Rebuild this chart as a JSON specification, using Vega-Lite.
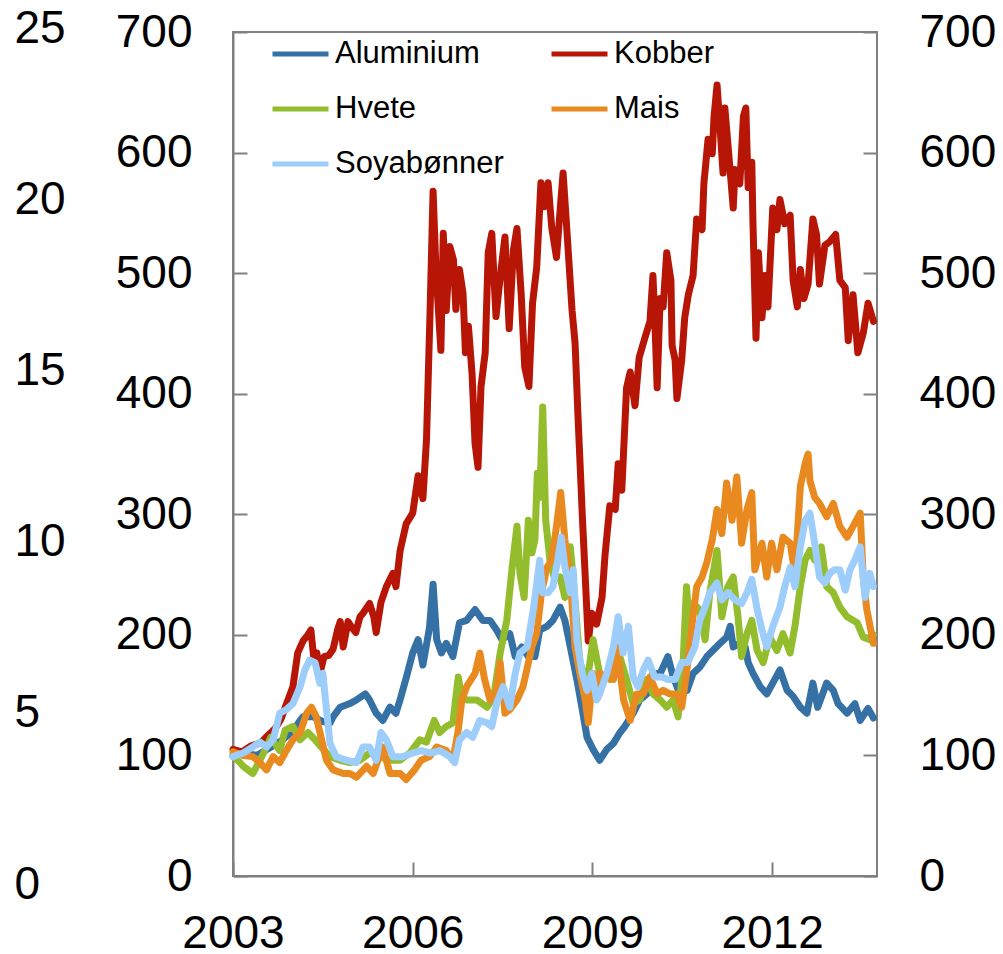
{
"$schema": "https://vega.github.io/schema/vega-lite/v6.json",
"width": 644, "height": 844,
"autosize": "none",
"padding": {"left": 233, "top": 32, "right": 126, "bottom": 78},
"background": "white",
"config": {
  "font": "Liberation Sans",
  "view": {"stroke": "#808080", "strokeWidth": 2},
  "axis": {"grid": false, "title": null, "domainColor": "#808080", "domainWidth": 2, "tickColor": "#808080", "tickWidth": 2, "labelColor": "black", "labelFontSize": 46, "labelFont": "Liberation Sans"}
},
"layer": [
  {
    "data": {"values": [
{"commodity":"Aluminium","year":2003.0,"index":100},{"commodity":"Aluminium","year":2003.2,"index":102},{"commodity":"Aluminium","year":2003.4,"index":100},{"commodity":"Aluminium","year":2003.6,"index":106},{"commodity":"Aluminium","year":2003.8,"index":112},{"commodity":"Aluminium","year":2004.0,"index":120},{"commodity":"Aluminium","year":2004.12,"index":129},{"commodity":"Aluminium","year":2004.17,"index":132},{"commodity":"Aluminium","year":2004.34,"index":132},{"commodity":"Aluminium","year":2004.5,"index":128},{"commodity":"Aluminium","year":2004.62,"index":127},{"commodity":"Aluminium","year":2004.67,"index":132},{"commodity":"Aluminium","year":2004.79,"index":140},{"commodity":"Aluminium","year":2004.95,"index":143},{"commodity":"Aluminium","year":2005.06,"index":146},{"commodity":"Aluminium","year":2005.21,"index":151},{"commodity":"Aluminium","year":2005.28,"index":146},{"commodity":"Aluminium","year":2005.39,"index":135},{"commodity":"Aluminium","year":2005.5,"index":129},{"commodity":"Aluminium","year":2005.62,"index":140},{"commodity":"Aluminium","year":2005.72,"index":135},{"commodity":"Aluminium","year":2005.8,"index":148},{"commodity":"Aluminium","year":2005.9,"index":166},{"commodity":"Aluminium","year":2006.0,"index":185},{"commodity":"Aluminium","year":2006.09,"index":196},{"commodity":"Aluminium","year":2006.17,"index":175},{"commodity":"Aluminium","year":2006.28,"index":206},{"commodity":"Aluminium","year":2006.34,"index":242},{"commodity":"Aluminium","year":2006.4,"index":196},{"commodity":"Aluminium","year":2006.48,"index":185},{"commodity":"Aluminium","year":2006.56,"index":193},{"commodity":"Aluminium","year":2006.67,"index":182},{"commodity":"Aluminium","year":2006.78,"index":210},{"commodity":"Aluminium","year":2006.9,"index":212},{"commodity":"Aluminium","year":2007.04,"index":221},{"commodity":"Aluminium","year":2007.17,"index":212},{"commodity":"Aluminium","year":2007.29,"index":212},{"commodity":"Aluminium","year":2007.4,"index":204},{"commodity":"Aluminium","year":2007.49,"index":196},{"commodity":"Aluminium","year":2007.62,"index":201},{"commodity":"Aluminium","year":2007.71,"index":182},{"commodity":"Aluminium","year":2007.82,"index":190},{"commodity":"Aluminium","year":2007.93,"index":182},{"commodity":"Aluminium","year":2008.04,"index":182},{"commodity":"Aluminium","year":2008.12,"index":204},{"commodity":"Aluminium","year":2008.24,"index":207},{"commodity":"Aluminium","year":2008.34,"index":212},{"commodity":"Aluminium","year":2008.46,"index":223},{"commodity":"Aluminium","year":2008.54,"index":212},{"commodity":"Aluminium","year":2008.63,"index":190},{"commodity":"Aluminium","year":2008.74,"index":163},{"commodity":"Aluminium","year":2008.83,"index":138},{"commodity":"Aluminium","year":2008.91,"index":115},{"commodity":"Aluminium","year":2009.01,"index":105},{"commodity":"Aluminium","year":2009.12,"index":96},{"commodity":"Aluminium","year":2009.24,"index":105},{"commodity":"Aluminium","year":2009.35,"index":110},{"commodity":"Aluminium","year":2009.46,"index":119},{"commodity":"Aluminium","year":2009.54,"index":124},{"commodity":"Aluminium","year":2009.68,"index":135},{"commodity":"Aluminium","year":2009.79,"index":146},{"commodity":"Aluminium","year":2009.91,"index":151},{"commodity":"Aluminium","year":2010.01,"index":168},{"commodity":"Aluminium","year":2010.13,"index":168},{"commodity":"Aluminium","year":2010.26,"index":182},{"commodity":"Aluminium","year":2010.35,"index":165},{"commodity":"Aluminium","year":2010.46,"index":151},{"commodity":"Aluminium","year":2010.58,"index":154},{"commodity":"Aluminium","year":2010.68,"index":168},{"commodity":"Aluminium","year":2010.79,"index":173},{"commodity":"Aluminium","year":2010.91,"index":182},{"commodity":"Aluminium","year":2011.01,"index":187},{"commodity":"Aluminium","year":2011.13,"index":193},{"commodity":"Aluminium","year":2011.24,"index":198},{"commodity":"Aluminium","year":2011.3,"index":207},{"commodity":"Aluminium","year":2011.35,"index":190},{"commodity":"Aluminium","year":2011.46,"index":193},{"commodity":"Aluminium","year":2011.55,"index":190},{"commodity":"Aluminium","year":2011.6,"index":177},{"commodity":"Aluminium","year":2011.68,"index":168},{"commodity":"Aluminium","year":2011.8,"index":157},{"commodity":"Aluminium","year":2011.91,"index":151},{"commodity":"Aluminium","year":2012.01,"index":160},{"commodity":"Aluminium","year":2012.13,"index":171},{"commodity":"Aluminium","year":2012.25,"index":154},{"commodity":"Aluminium","year":2012.35,"index":149},{"commodity":"Aluminium","year":2012.47,"index":140},{"commodity":"Aluminium","year":2012.58,"index":135},{"commodity":"Aluminium","year":2012.68,"index":160},{"commodity":"Aluminium","year":2012.76,"index":140},{"commodity":"Aluminium","year":2012.91,"index":160},{"commodity":"Aluminium","year":2013.02,"index":154},{"commodity":"Aluminium","year":2013.1,"index":143},{"commodity":"Aluminium","year":2013.25,"index":135},{"commodity":"Aluminium","year":2013.38,"index":143},{"commodity":"Aluminium","year":2013.47,"index":129},{"commodity":"Aluminium","year":2013.6,"index":139},{"commodity":"Aluminium","year":2013.69,"index":131},
{"commodity":"Kobber","year":2003.0,"index":105},{"commodity":"Kobber","year":2003.15,"index":103},{"commodity":"Kobber","year":2003.3,"index":108},{"commodity":"Kobber","year":2003.45,"index":110},{"commodity":"Kobber","year":2003.55,"index":115},{"commodity":"Kobber","year":2003.7,"index":122},{"commodity":"Kobber","year":2003.8,"index":130},{"commodity":"Kobber","year":2003.88,"index":141},{"commodity":"Kobber","year":2004.0,"index":157},{"commodity":"Kobber","year":2004.08,"index":185},{"commodity":"Kobber","year":2004.17,"index":195},{"commodity":"Kobber","year":2004.25,"index":200},{"commodity":"Kobber","year":2004.3,"index":204},{"commodity":"Kobber","year":2004.35,"index":180},{"commodity":"Kobber","year":2004.4,"index":185},{"commodity":"Kobber","year":2004.45,"index":168},{"commodity":"Kobber","year":2004.52,"index":182},{"commodity":"Kobber","year":2004.6,"index":183},{"commodity":"Kobber","year":2004.67,"index":188},{"commodity":"Kobber","year":2004.75,"index":205},{"commodity":"Kobber","year":2004.79,"index":211},{"commodity":"Kobber","year":2004.84,"index":190},{"commodity":"Kobber","year":2004.92,"index":211},{"commodity":"Kobber","year":2005.0,"index":205},{"commodity":"Kobber","year":2005.05,"index":202},{"commodity":"Kobber","year":2005.12,"index":215},{"commodity":"Kobber","year":2005.17,"index":218},{"commodity":"Kobber","year":2005.28,"index":226},{"commodity":"Kobber","year":2005.35,"index":215},{"commodity":"Kobber","year":2005.39,"index":202},{"commodity":"Kobber","year":2005.47,"index":227},{"commodity":"Kobber","year":2005.56,"index":240},{"commodity":"Kobber","year":2005.67,"index":251},{"commodity":"Kobber","year":2005.72,"index":240},{"commodity":"Kobber","year":2005.79,"index":270},{"commodity":"Kobber","year":2005.89,"index":292},{"commodity":"Kobber","year":2006.0,"index":301},{"commodity":"Kobber","year":2006.09,"index":332},{"commodity":"Kobber","year":2006.17,"index":313},{"commodity":"Kobber","year":2006.23,"index":362},{"commodity":"Kobber","year":2006.29,"index":469},{"commodity":"Kobber","year":2006.34,"index":568},{"commodity":"Kobber","year":2006.39,"index":500},{"commodity":"Kobber","year":2006.43,"index":469},{"commodity":"Kobber","year":2006.47,"index":436},{"commodity":"Kobber","year":2006.51,"index":533},{"commodity":"Kobber","year":2006.56,"index":469},{"commodity":"Kobber","year":2006.62,"index":522},{"commodity":"Kobber","year":2006.68,"index":511},{"commodity":"Kobber","year":2006.72,"index":470},{"commodity":"Kobber","year":2006.78,"index":503},{"commodity":"Kobber","year":2006.84,"index":483},{"commodity":"Kobber","year":2006.88,"index":434},{"commodity":"Kobber","year":2006.93,"index":456},{"commodity":"Kobber","year":2006.99,"index":417},{"commodity":"Kobber","year":2007.04,"index":359},{"commodity":"Kobber","year":2007.09,"index":339},{"commodity":"Kobber","year":2007.14,"index":406},{"commodity":"Kobber","year":2007.21,"index":434},{"commodity":"Kobber","year":2007.26,"index":517},{"commodity":"Kobber","year":2007.32,"index":533},{"commodity":"Kobber","year":2007.39,"index":464},{"commodity":"Kobber","year":2007.46,"index":497},{"commodity":"Kobber","year":2007.54,"index":530},{"commodity":"Kobber","year":2007.61,"index":454},{"commodity":"Kobber","year":2007.68,"index":519},{"commodity":"Kobber","year":2007.74,"index":537},{"commodity":"Kobber","year":2007.81,"index":483},{"commodity":"Kobber","year":2007.87,"index":422},{"commodity":"Kobber","year":2007.94,"index":406},{"commodity":"Kobber","year":2008.0,"index":475},{"commodity":"Kobber","year":2008.07,"index":505},{"commodity":"Kobber","year":2008.14,"index":575},{"commodity":"Kobber","year":2008.2,"index":555},{"commodity":"Kobber","year":2008.26,"index":575},{"commodity":"Kobber","year":2008.32,"index":538},{"commodity":"Kobber","year":2008.4,"index":513},{"commodity":"Kobber","year":2008.46,"index":552},{"commodity":"Kobber","year":2008.51,"index":583},{"commodity":"Kobber","year":2008.57,"index":538},{"commodity":"Kobber","year":2008.66,"index":469},{"commodity":"Kobber","year":2008.71,"index":442},{"commodity":"Kobber","year":2008.76,"index":380},{"commodity":"Kobber","year":2008.83,"index":300},{"commodity":"Kobber","year":2008.88,"index":248},{"commodity":"Kobber","year":2008.93,"index":195},{"commodity":"Kobber","year":2008.99,"index":218},{"commodity":"Kobber","year":2009.07,"index":209},{"commodity":"Kobber","year":2009.16,"index":231},{"commodity":"Kobber","year":2009.21,"index":266},{"commodity":"Kobber","year":2009.29,"index":307},{"commodity":"Kobber","year":2009.38,"index":304},{"commodity":"Kobber","year":2009.43,"index":342},{"commodity":"Kobber","year":2009.49,"index":320},{"commodity":"Kobber","year":2009.57,"index":405},{"commodity":"Kobber","year":2009.63,"index":418},{"commodity":"Kobber","year":2009.71,"index":390},{"commodity":"Kobber","year":2009.78,"index":430},{"commodity":"Kobber","year":2009.88,"index":447},{"commodity":"Kobber","year":2009.96,"index":460},{"commodity":"Kobber","year":2010.01,"index":498},{"commodity":"Kobber","year":2010.04,"index":463},{"commodity":"Kobber","year":2010.08,"index":405},{"commodity":"Kobber","year":2010.13,"index":479},{"commodity":"Kobber","year":2010.18,"index":472},{"commodity":"Kobber","year":2010.24,"index":517},{"commodity":"Kobber","year":2010.31,"index":494},{"commodity":"Kobber","year":2010.33,"index":440},{"commodity":"Kobber","year":2010.38,"index":428},{"commodity":"Kobber","year":2010.41,"index":396},{"commodity":"Kobber","year":2010.49,"index":428},{"commodity":"Kobber","year":2010.54,"index":463},{"commodity":"Kobber","year":2010.6,"index":482},{"commodity":"Kobber","year":2010.68,"index":498},{"commodity":"Kobber","year":2010.74,"index":545},{"commodity":"Kobber","year":2010.83,"index":536},{"commodity":"Kobber","year":2010.86,"index":574},{"commodity":"Kobber","year":2010.93,"index":611},{"commodity":"Kobber","year":2011.0,"index":599},{"commodity":"Kobber","year":2011.03,"index":630},{"commodity":"Kobber","year":2011.08,"index":656},{"commodity":"Kobber","year":2011.13,"index":621},{"commodity":"Kobber","year":2011.18,"index":583},{"commodity":"Kobber","year":2011.21,"index":637},{"commodity":"Kobber","year":2011.26,"index":608},{"commodity":"Kobber","year":2011.35,"index":554},{"commodity":"Kobber","year":2011.38,"index":586},{"commodity":"Kobber","year":2011.46,"index":574},{"commodity":"Kobber","year":2011.52,"index":630},{"commodity":"Kobber","year":2011.56,"index":637},{"commodity":"Kobber","year":2011.6,"index":571},{"commodity":"Kobber","year":2011.66,"index":592},{"commodity":"Kobber","year":2011.68,"index":541},{"commodity":"Kobber","year":2011.73,"index":446},{"commodity":"Kobber","year":2011.77,"index":517},{"commodity":"Kobber","year":2011.83,"index":463},{"commodity":"Kobber","year":2011.88,"index":498},{"commodity":"Kobber","year":2011.93,"index":472},{"commodity":"Kobber","year":2012.01,"index":554},{"commodity":"Kobber","year":2012.08,"index":536},{"commodity":"Kobber","year":2012.13,"index":561},{"commodity":"Kobber","year":2012.21,"index":541},{"commodity":"Kobber","year":2012.3,"index":548},{"commodity":"Kobber","year":2012.35,"index":494},{"commodity":"Kobber","year":2012.42,"index":472},{"commodity":"Kobber","year":2012.47,"index":503},{"commodity":"Kobber","year":2012.53,"index":479},{"commodity":"Kobber","year":2012.6,"index":491},{"commodity":"Kobber","year":2012.68,"index":545},{"commodity":"Kobber","year":2012.74,"index":532},{"commodity":"Kobber","year":2012.79,"index":491},{"commodity":"Kobber","year":2012.88,"index":523},{"commodity":"Kobber","year":2012.96,"index":526},{"commodity":"Kobber","year":2013.06,"index":532},{"commodity":"Kobber","year":2013.13,"index":494},{"commodity":"Kobber","year":2013.22,"index":488},{"commodity":"Kobber","year":2013.27,"index":444},{"commodity":"Kobber","year":2013.35,"index":482},{"commodity":"Kobber","year":2013.43,"index":434},{"commodity":"Kobber","year":2013.52,"index":450},{"commodity":"Kobber","year":2013.6,"index":475},{"commodity":"Kobber","year":2013.69,"index":460},
{"commodity":"Hvete","year":2003.0,"index":99},{"commodity":"Hvete","year":2003.1,"index":95},{"commodity":"Hvete","year":2003.17,"index":91},{"commodity":"Hvete","year":2003.25,"index":88},{"commodity":"Hvete","year":2003.33,"index":85},{"commodity":"Hvete","year":2003.45,"index":96},{"commodity":"Hvete","year":2003.56,"index":107},{"commodity":"Hvete","year":2003.63,"index":115},{"commodity":"Hvete","year":2003.78,"index":104},{"commodity":"Hvete","year":2003.87,"index":121},{"commodity":"Hvete","year":2004.0,"index":124},{"commodity":"Hvete","year":2004.12,"index":113},{"commodity":"Hvete","year":2004.25,"index":119},{"commodity":"Hvete","year":2004.37,"index":113},{"commodity":"Hvete","year":2004.47,"index":107},{"commodity":"Hvete","year":2004.62,"index":99},{"commodity":"Hvete","year":2004.79,"index":96},{"commodity":"Hvete","year":2004.95,"index":94},{"commodity":"Hvete","year":2005.12,"index":96},{"commodity":"Hvete","year":2005.28,"index":102},{"commodity":"Hvete","year":2005.45,"index":99},{"commodity":"Hvete","year":2005.62,"index":96},{"commodity":"Hvete","year":2005.79,"index":96},{"commodity":"Hvete","year":2005.95,"index":102},{"commodity":"Hvete","year":2006.12,"index":113},{"commodity":"Hvete","year":2006.23,"index":111},{"commodity":"Hvete","year":2006.36,"index":129},{"commodity":"Hvete","year":2006.45,"index":119},{"commodity":"Hvete","year":2006.56,"index":124},{"commodity":"Hvete","year":2006.67,"index":127},{"commodity":"Hvete","year":2006.76,"index":165},{"commodity":"Hvete","year":2006.82,"index":148},{"commodity":"Hvete","year":2006.9,"index":146},{"commodity":"Hvete","year":2007.07,"index":146},{"commodity":"Hvete","year":2007.24,"index":140},{"commodity":"Hvete","year":2007.35,"index":148},{"commodity":"Hvete","year":2007.46,"index":185},{"commodity":"Hvete","year":2007.57,"index":212},{"commodity":"Hvete","year":2007.66,"index":256},{"commodity":"Hvete","year":2007.74,"index":290},{"commodity":"Hvete","year":2007.79,"index":251},{"commodity":"Hvete","year":2007.86,"index":231},{"commodity":"Hvete","year":2007.93,"index":295},{"commodity":"Hvete","year":2007.99,"index":268},{"commodity":"Hvete","year":2008.04,"index":279},{"commodity":"Hvete","year":2008.08,"index":334},{"commodity":"Hvete","year":2008.12,"index":314},{"commodity":"Hvete","year":2008.17,"index":389},{"commodity":"Hvete","year":2008.22,"index":295},{"commodity":"Hvete","year":2008.29,"index":262},{"commodity":"Hvete","year":2008.37,"index":246},{"commodity":"Hvete","year":2008.46,"index":248},{"commodity":"Hvete","year":2008.54,"index":231},{"commodity":"Hvete","year":2008.63,"index":273},{"commodity":"Hvete","year":2008.68,"index":246},{"commodity":"Hvete","year":2008.79,"index":177},{"commodity":"Hvete","year":2008.91,"index":160},{"commodity":"Hvete","year":2009.01,"index":196},{"commodity":"Hvete","year":2009.12,"index":168},{"commodity":"Hvete","year":2009.29,"index":163},{"commodity":"Hvete","year":2009.41,"index":190},{"commodity":"Hvete","year":2009.57,"index":163},{"commodity":"Hvete","year":2009.68,"index":143},{"commodity":"Hvete","year":2009.79,"index":146},{"commodity":"Hvete","year":2009.91,"index":163},{"commodity":"Hvete","year":2010.01,"index":151},{"commodity":"Hvete","year":2010.13,"index":146},{"commodity":"Hvete","year":2010.24,"index":140},{"commodity":"Hvete","year":2010.35,"index":146},{"commodity":"Hvete","year":2010.43,"index":132},{"commodity":"Hvete","year":2010.51,"index":173},{"commodity":"Hvete","year":2010.57,"index":240},{"commodity":"Hvete","year":2010.62,"index":207},{"commodity":"Hvete","year":2010.68,"index":226},{"commodity":"Hvete","year":2010.79,"index":221},{"commodity":"Hvete","year":2010.88,"index":196},{"commodity":"Hvete","year":2010.96,"index":235},{"commodity":"Hvete","year":2011.08,"index":270},{"commodity":"Hvete","year":2011.16,"index":215},{"commodity":"Hvete","year":2011.26,"index":240},{"commodity":"Hvete","year":2011.35,"index":248},{"commodity":"Hvete","year":2011.43,"index":215},{"commodity":"Hvete","year":2011.49,"index":182},{"commodity":"Hvete","year":2011.58,"index":201},{"commodity":"Hvete","year":2011.66,"index":212},{"commodity":"Hvete","year":2011.75,"index":187},{"commodity":"Hvete","year":2011.85,"index":177},{"commodity":"Hvete","year":2011.96,"index":198},{"commodity":"Hvete","year":2012.08,"index":187},{"commodity":"Hvete","year":2012.18,"index":201},{"commodity":"Hvete","year":2012.3,"index":185},{"commodity":"Hvete","year":2012.38,"index":207},{"commodity":"Hvete","year":2012.47,"index":240},{"commodity":"Hvete","year":2012.55,"index":262},{"commodity":"Hvete","year":2012.63,"index":270},{"commodity":"Hvete","year":2012.71,"index":262},{"commodity":"Hvete","year":2012.82,"index":273},{"commodity":"Hvete","year":2012.91,"index":240},{"commodity":"Hvete","year":2013.02,"index":235},{"commodity":"Hvete","year":2013.13,"index":223},{"commodity":"Hvete","year":2013.25,"index":215},{"commodity":"Hvete","year":2013.42,"index":210},{"commodity":"Hvete","year":2013.52,"index":198},{"commodity":"Hvete","year":2013.63,"index":196},{"commodity":"Hvete","year":2013.69,"index":200},
{"commodity":"Mais","year":2003.0,"index":103},{"commodity":"Mais","year":2003.17,"index":100},{"commodity":"Mais","year":2003.33,"index":99},{"commodity":"Mais","year":2003.45,"index":94},{"commodity":"Mais","year":2003.56,"index":88},{"commodity":"Mais","year":2003.67,"index":99},{"commodity":"Mais","year":2003.78,"index":94},{"commodity":"Mais","year":2003.89,"index":104},{"commodity":"Mais","year":2004.0,"index":113},{"commodity":"Mais","year":2004.12,"index":119},{"commodity":"Mais","year":2004.23,"index":135},{"commodity":"Mais","year":2004.31,"index":140},{"commodity":"Mais","year":2004.39,"index":132},{"commodity":"Mais","year":2004.47,"index":115},{"commodity":"Mais","year":2004.56,"index":96},{"commodity":"Mais","year":2004.67,"index":88},{"commodity":"Mais","year":2004.84,"index":85},{"commodity":"Mais","year":2004.95,"index":85},{"commodity":"Mais","year":2005.06,"index":82},{"commodity":"Mais","year":2005.23,"index":91},{"commodity":"Mais","year":2005.34,"index":85},{"commodity":"Mais","year":2005.5,"index":107},{"commodity":"Mais","year":2005.62,"index":85},{"commodity":"Mais","year":2005.79,"index":85},{"commodity":"Mais","year":2005.89,"index":80},{"commodity":"Mais","year":2006.03,"index":88},{"commodity":"Mais","year":2006.14,"index":96},{"commodity":"Mais","year":2006.28,"index":99},{"commodity":"Mais","year":2006.4,"index":107},{"commodity":"Mais","year":2006.56,"index":104},{"commodity":"Mais","year":2006.67,"index":96},{"commodity":"Mais","year":2006.76,"index":121},{"commodity":"Mais","year":2006.82,"index":146},{"commodity":"Mais","year":2006.9,"index":157},{"commodity":"Mais","year":2007.04,"index":168},{"commodity":"Mais","year":2007.12,"index":185},{"commodity":"Mais","year":2007.2,"index":163},{"commodity":"Mais","year":2007.29,"index":146},{"commodity":"Mais","year":2007.4,"index":154},{"commodity":"Mais","year":2007.46,"index":177},{"commodity":"Mais","year":2007.54,"index":135},{"commodity":"Mais","year":2007.62,"index":138},{"commodity":"Mais","year":2007.74,"index":146},{"commodity":"Mais","year":2007.84,"index":157},{"commodity":"Mais","year":2007.99,"index":190},{"commodity":"Mais","year":2008.07,"index":201},{"commodity":"Mais","year":2008.15,"index":235},{"commodity":"Mais","year":2008.24,"index":256},{"commodity":"Mais","year":2008.32,"index":262},{"commodity":"Mais","year":2008.4,"index":290},{"commodity":"Mais","year":2008.47,"index":318},{"commodity":"Mais","year":2008.54,"index":279},{"commodity":"Mais","year":2008.63,"index":246},{"commodity":"Mais","year":2008.71,"index":190},{"commodity":"Mais","year":2008.79,"index":168},{"commodity":"Mais","year":2008.88,"index":146},{"commodity":"Mais","year":2008.93,"index":127},{"commodity":"Mais","year":2009.01,"index":168},{"commodity":"Mais","year":2009.09,"index":148},{"commodity":"Mais","year":2009.12,"index":168},{"commodity":"Mais","year":2009.24,"index":165},{"commodity":"Mais","year":2009.35,"index":163},{"commodity":"Mais","year":2009.41,"index":190},{"commodity":"Mais","year":2009.52,"index":146},{"commodity":"Mais","year":2009.63,"index":129},{"commodity":"Mais","year":2009.74,"index":151},{"commodity":"Mais","year":2009.85,"index":151},{"commodity":"Mais","year":2009.96,"index":165},{"commodity":"Mais","year":2010.08,"index":151},{"commodity":"Mais","year":2010.18,"index":154},{"commodity":"Mais","year":2010.29,"index":151},{"commodity":"Mais","year":2010.41,"index":151},{"commodity":"Mais","year":2010.49,"index":140},{"commodity":"Mais","year":2010.57,"index":168},{"commodity":"Mais","year":2010.66,"index":207},{"commodity":"Mais","year":2010.74,"index":240},{"commodity":"Mais","year":2010.83,"index":248},{"commodity":"Mais","year":2010.91,"index":260},{"commodity":"Mais","year":2011.0,"index":279},{"commodity":"Mais","year":2011.08,"index":304},{"commodity":"Mais","year":2011.16,"index":284},{"commodity":"Mais","year":2011.24,"index":326},{"commodity":"Mais","year":2011.33,"index":295},{"commodity":"Mais","year":2011.41,"index":331},{"commodity":"Mais","year":2011.49,"index":276},{"commodity":"Mais","year":2011.58,"index":304},{"commodity":"Mais","year":2011.66,"index":318},{"commodity":"Mais","year":2011.71,"index":254},{"commodity":"Mais","year":2011.83,"index":276},{"commodity":"Mais","year":2011.91,"index":248},{"commodity":"Mais","year":2011.99,"index":276},{"commodity":"Mais","year":2012.08,"index":254},{"commodity":"Mais","year":2012.18,"index":281},{"commodity":"Mais","year":2012.3,"index":276},{"commodity":"Mais","year":2012.38,"index":251},{"commodity":"Mais","year":2012.47,"index":323},{"commodity":"Mais","year":2012.55,"index":342},{"commodity":"Mais","year":2012.6,"index":350},{"commodity":"Mais","year":2012.63,"index":328},{"commodity":"Mais","year":2012.71,"index":314},{"commodity":"Mais","year":2012.79,"index":309},{"commodity":"Mais","year":2012.91,"index":298},{"commodity":"Mais","year":2013.02,"index":309},{"commodity":"Mais","year":2013.13,"index":290},{"commodity":"Mais","year":2013.25,"index":281},{"commodity":"Mais","year":2013.35,"index":290},{"commodity":"Mais","year":2013.47,"index":301},{"commodity":"Mais","year":2013.52,"index":248},{"commodity":"Mais","year":2013.58,"index":221},{"commodity":"Mais","year":2013.69,"index":193},
{"commodity":"Soyabønner","year":2003.0,"index":99},{"commodity":"Soyabønner","year":2003.17,"index":102},{"commodity":"Soyabønner","year":2003.33,"index":107},{"commodity":"Soyabønner","year":2003.45,"index":111},{"commodity":"Soyabønner","year":2003.56,"index":107},{"commodity":"Soyabønner","year":2003.67,"index":113},{"commodity":"Soyabønner","year":2003.78,"index":135},{"commodity":"Soyabønner","year":2003.89,"index":138},{"commodity":"Soyabønner","year":2004.0,"index":143},{"commodity":"Soyabønner","year":2004.12,"index":157},{"commodity":"Soyabønner","year":2004.2,"index":171},{"commodity":"Soyabønner","year":2004.28,"index":179},{"commodity":"Soyabønner","year":2004.37,"index":177},{"commodity":"Soyabønner","year":2004.45,"index":160},{"commodity":"Soyabønner","year":2004.5,"index":168},{"commodity":"Soyabønner","year":2004.55,"index":143},{"commodity":"Soyabønner","year":2004.62,"index":110},{"commodity":"Soyabønner","year":2004.72,"index":99},{"commodity":"Soyabønner","year":2004.89,"index":96},{"commodity":"Soyabønner","year":2005.06,"index":94},{"commodity":"Soyabønner","year":2005.17,"index":107},{"commodity":"Soyabønner","year":2005.28,"index":107},{"commodity":"Soyabønner","year":2005.39,"index":96},{"commodity":"Soyabønner","year":2005.47,"index":119},{"commodity":"Soyabønner","year":2005.56,"index":113},{"commodity":"Soyabønner","year":2005.67,"index":99},{"commodity":"Soyabønner","year":2005.84,"index":99},{"commodity":"Soyabønner","year":2006.0,"index":102},{"commodity":"Soyabønner","year":2006.14,"index":104},{"commodity":"Soyabønner","year":2006.3,"index":102},{"commodity":"Soyabønner","year":2006.45,"index":104},{"commodity":"Soyabønner","year":2006.62,"index":99},{"commodity":"Soyabønner","year":2006.7,"index":94},{"commodity":"Soyabønner","year":2006.78,"index":113},{"commodity":"Soyabønner","year":2006.9,"index":119},{"commodity":"Soyabønner","year":2007.0,"index":115},{"commodity":"Soyabønner","year":2007.12,"index":129},{"commodity":"Soyabønner","year":2007.24,"index":127},{"commodity":"Soyabønner","year":2007.32,"index":124},{"commodity":"Soyabønner","year":2007.4,"index":143},{"commodity":"Soyabønner","year":2007.51,"index":157},{"commodity":"Soyabønner","year":2007.62,"index":140},{"commodity":"Soyabønner","year":2007.71,"index":168},{"commodity":"Soyabønner","year":2007.79,"index":185},{"commodity":"Soyabønner","year":2007.91,"index":190},{"commodity":"Soyabønner","year":2008.02,"index":223},{"commodity":"Soyabønner","year":2008.12,"index":262},{"commodity":"Soyabønner","year":2008.17,"index":235},{"commodity":"Soyabønner","year":2008.26,"index":235},{"commodity":"Soyabønner","year":2008.34,"index":240},{"commodity":"Soyabønner","year":2008.42,"index":262},{"commodity":"Soyabønner","year":2008.48,"index":281},{"commodity":"Soyabønner","year":2008.54,"index":256},{"commodity":"Soyabønner","year":2008.63,"index":235},{"commodity":"Soyabønner","year":2008.68,"index":254},{"commodity":"Soyabønner","year":2008.74,"index":196},{"commodity":"Soyabønner","year":2008.83,"index":168},{"commodity":"Soyabønner","year":2008.91,"index":154},{"commodity":"Soyabønner","year":2008.99,"index":168},{"commodity":"Soyabønner","year":2009.07,"index":146},{"commodity":"Soyabønner","year":2009.12,"index":151},{"commodity":"Soyabønner","year":2009.24,"index":168},{"commodity":"Soyabønner","year":2009.35,"index":190},{"commodity":"Soyabønner","year":2009.43,"index":215},{"commodity":"Soyabønner","year":2009.51,"index":185},{"commodity":"Soyabønner","year":2009.6,"index":207},{"commodity":"Soyabønner","year":2009.68,"index":165},{"commodity":"Soyabønner","year":2009.76,"index":157},{"commodity":"Soyabønner","year":2009.85,"index":171},{"commodity":"Soyabønner","year":2009.93,"index":179},{"commodity":"Soyabønner","year":2010.04,"index":165},{"commodity":"Soyabønner","year":2010.16,"index":165},{"commodity":"Soyabønner","year":2010.26,"index":163},{"commodity":"Soyabønner","year":2010.38,"index":163},{"commodity":"Soyabønner","year":2010.49,"index":177},{"commodity":"Soyabønner","year":2010.59,"index":177},{"commodity":"Soyabønner","year":2010.71,"index":190},{"commodity":"Soyabønner","year":2010.79,"index":212},{"commodity":"Soyabønner","year":2010.88,"index":223},{"commodity":"Soyabønner","year":2010.96,"index":235},{"commodity":"Soyabønner","year":2011.08,"index":243},{"commodity":"Soyabønner","year":2011.16,"index":229},{"commodity":"Soyabønner","year":2011.26,"index":235},{"commodity":"Soyabønner","year":2011.38,"index":229},{"commodity":"Soyabønner","year":2011.49,"index":226},{"commodity":"Soyabønner","year":2011.58,"index":235},{"commodity":"Soyabønner","year":2011.66,"index":246},{"commodity":"Soyabønner","year":2011.75,"index":221},{"commodity":"Soyabønner","year":2011.83,"index":204},{"commodity":"Soyabønner","year":2011.91,"index":190},{"commodity":"Soyabønner","year":2012.01,"index":207},{"commodity":"Soyabønner","year":2012.13,"index":223},{"commodity":"Soyabønner","year":2012.21,"index":240},{"commodity":"Soyabønner","year":2012.3,"index":256},{"commodity":"Soyabønner","year":2012.38,"index":240},{"commodity":"Soyabønner","year":2012.47,"index":273},{"commodity":"Soyabønner","year":2012.55,"index":295},{"commodity":"Soyabønner","year":2012.63,"index":301},{"commodity":"Soyabønner","year":2012.71,"index":276},{"commodity":"Soyabønner","year":2012.79,"index":248},{"commodity":"Soyabønner","year":2012.88,"index":243},{"commodity":"Soyabønner","year":2012.96,"index":251},{"commodity":"Soyabønner","year":2013.04,"index":254},{"commodity":"Soyabønner","year":2013.13,"index":254},{"commodity":"Soyabønner","year":2013.22,"index":237},{"commodity":"Soyabønner","year":2013.3,"index":254},{"commodity":"Soyabønner","year":2013.38,"index":262},{"commodity":"Soyabønner","year":2013.47,"index":273},{"commodity":"Soyabønner","year":2013.55,"index":231},{"commodity":"Soyabønner","year":2013.63,"index":251},{"commodity":"Soyabønner","year":2013.69,"index":240}
    ]},
    "mark": {"type": "line", "strokeWidth": 7, "strokeCap": "round", "strokeJoin": "round"},
    "encoding": {
      "x": {"field": "year", "type": "quantitative", "scale": {"domain": [2003, 2013.75], "nice": false, "zero": false},
            "axis": {"values": [2003, 2006, 2009, 2012], "format": "d", "tickSize": -14, "labelPadding": 49, "labelFlush": false, "labelOverlap": false}},
      "y": {"field": "index", "type": "quantitative", "scale": {"domain": [0, 700], "nice": false},
            "axis": {"orient": "left", "values": [0,100,200,300,400,500,600,700], "tickSize": -14, "labelPadding": 55}},
      "color": {"field": "commodity", "type": "nominal",
        "scale": {"domain": ["Aluminium","Kobber","Hvete","Mais","Soyabønner"], "range": ["#3571a5","#b71607","#93bd2d","#e98a21","#9dcdfb"]},
        "legend": {"title": null, "orient": "none", "legendX": 37, "legendY": 0, "direction": "horizontal", "columns": 2, "padding": 0,
          "symbolType": "stroke", "symbolSize": 3136, "symbolStrokeWidth": 5, "labelFontSize": 31, "labelFont": "Liberation Sans", "labelColor": "black",
          "labelOffset": 4, "clipHeight": 44, "rowPadding": 11, "columnPadding": 45, "labelLimit": 400}}
    }
  },
  {
    "data": {"values": [{"level": 0}, {"level": 700}]},
    "mark": {"type": "point", "opacity": 0},
    "encoding": {
      "y": {"field": "level", "type": "quantitative", "scale": {"domain": [0, 700], "nice": false},
            "axis": {"orient": "right", "values": [0,100,200,300,400,500,600,700], "tickSize": -14, "labelPadding": 56, "domain": false}}
    }
  },
  {
    "data": {"values": [{"level": 0}, {"level": 25}]},
    "mark": {"type": "point", "opacity": 0},
    "encoding": {
      "y": {"field": "level", "type": "quantitative", "scale": {"domain": [0, 25], "nice": false, "range": [852, -4]},
            "axis": {"orient": "left", "values": [0,5,10,15,20,25], "ticks": false, "domain": false, "labelAlign": "left", "labelPadding": 219}}
    }
  }
],
"resolve": {"scale": {"y": "independent"}}
}
